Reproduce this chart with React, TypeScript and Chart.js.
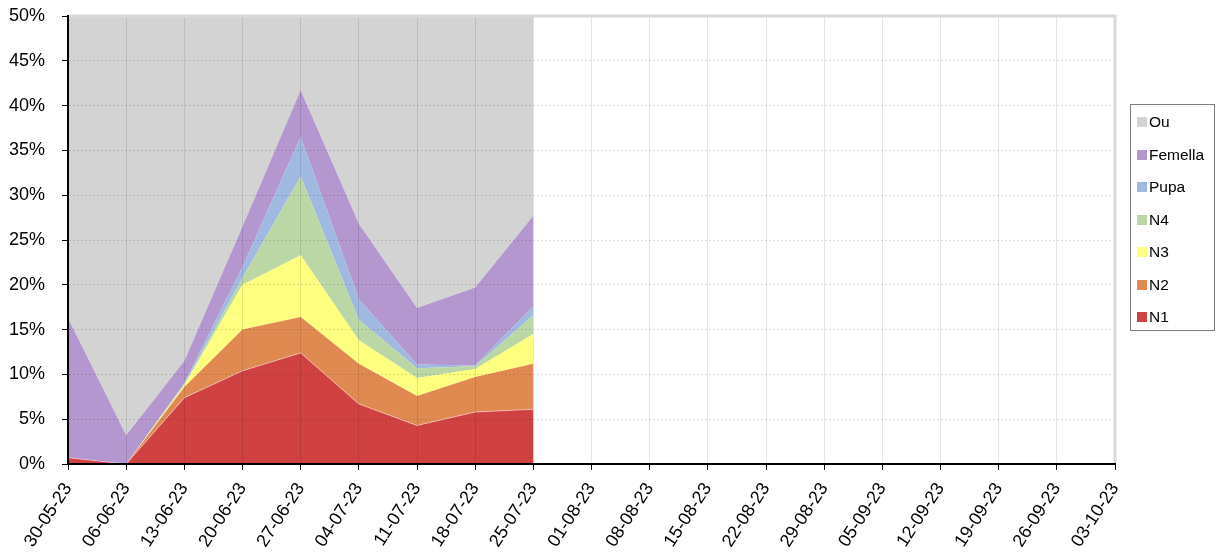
import React, { useEffect, useRef } from "react";
import { Chart, registerables } from "chart.js";

Chart.register(...registerables);

const dates = [
  "30-05-23", "06-06-23", "13-06-23", "20-06-23", "27-06-23", "04-07-23",
  "11-07-23", "18-07-23", "25-07-23", "01-08-23", "08-08-23", "15-08-23",
  "22-08-23", "29-08-23", "05-09-23", "12-09-23", "19-09-23", "26-09-23", "03-10-23",
];

// percentages per category (stacked bottom to top)
const n1 = [0.7, 0, 7.4, 10.4, 12.4, 6.7, 4.3, 5.8, 6.1];
const n2 = [0, 0, 1.2, 4.6, 4.0, 4.5, 3.3, 3.9, 5.1];
const n3 = [0, 0, 0.2, 5.0, 6.9, 2.6, 2.0, 0.9, 3.3];
const n4 = [0, 0, 0.1, 0.8, 8.8, 2.3, 1.1, 0.3, 2.1];
const pupa = [0, 0, 0.1, 1.2, 4.4, 2.3, 0.4, 0.1, 1.0];
const femella = [15.6, 3.2, 2.5, 4.5, 5.2, 8.4, 6.3, 8.7, 10.1];
const ou = [83.7, 96.8, 88.5, 73.5, 58.3, 73.2, 82.6, 80.3, 72.3];

const yTicks = [0, 5, 10, 15, 20, 25, 30, 35, 40, 45, 50];

const series = [
  { label: "N1", data: n1, color: "#d04242" },
  { label: "N2", data: n2, color: "#e08a52" },
  { label: "N3", data: n3, color: "#ffff80" },
  { label: "N4", data: n4, color: "#bbd7a5" },
  { label: "Pupa", data: pupa, color: "#a0b9e0" },
  { label: "Femella", data: femella, color: "#b497cf" },
  { label: "Ou", data: ou, color: "#d3d3d3" },
];

const frameBorder = {
  id: "frameBorder",
  afterDraw(chart: any) {
    const { ctx, chartArea } = chart;
    ctx.save();
    ctx.strokeStyle = "#d9d9d9";
    ctx.lineWidth = 3;
    ctx.beginPath();
    ctx.moveTo(chartArea.left + 1, chartArea.top);
    ctx.lineTo(chartArea.right, chartArea.top);
    ctx.lineTo(chartArea.right, chartArea.bottom - 1);
    ctx.stroke();
    ctx.restore();
  },
};

export default function App() {
  const ref = useRef<HTMLCanvasElement | null>(null);

  useEffect(() => {
    if (!ref.current) return;
    const chart = new Chart(ref.current, {
      type: "line",
      data: {
        labels: dates,
        datasets: series.map((s, i) => ({
          label: s.label,
          data: s.data,
          backgroundColor: s.color,
          borderColor: i === 0 ? "rgba(255,255,255,0.45)" : s.color,
          borderWidth: i === 0 ? 1 : 0,
          pointRadius: 0,
          tension: 0,
          fill: i === 0 ? "origin" : "-1",
        })),
      },
      options: {
        animation: false,
        responsive: false,
        layout: { padding: { top: 16, right: 103, left: 0, bottom: 0 } },
        plugins: {
          legend: { display: false },
          tooltip: { enabled: false },
        },
        scales: {
          x: {
            offset: false,
            grid: {
              z: 1,
              color: "rgba(0,0,0,0.1)",
              tickColor: "#000",
              tickLength: 6,
              tickBorderDash: [],
            },
            border: { color: "#000", width: 2, z: 2 },
            ticks: {
              autoSkip: false,
              minRotation: 57,
              maxRotation: 57,
              padding: 9,
              color: "#000",
              font: { family: "'Liberation Sans', Arial, sans-serif", size: 18 },
            },
            afterFit(scale: any) {
              scale.height = 95;
            },
          },
          y: {
            stacked: true,
            min: 0,
            max: 50,
            afterBuildTicks(scale: any) {
              scale.ticks = yTicks.map((v) => ({ value: v }));
            },
            grid: {
              z: 1,
              color: "rgba(0,0,0,0.13)",
              tickColor: "#000",
              tickLength: 6,
              tickBorderDash: [],
            },
            border: { color: "#000", width: 2, dash: [2, 2], z: 2 },
            ticks: {
              padding: 17,
              color: "#000",
              font: { family: "'Liberation Sans', Arial, sans-serif", size: 18 },
              callback: (v: any) => v + "%",
            },
            afterFit(scale: any) {
              scale.width = 68;
              scale.paddingTop = 0;
              scale.paddingBottom = 0;
            },
          },
        },
      },
      plugins: [frameBorder],
    });
    return () => chart.destroy();
  }, []);

  const legendItems = [...series].reverse();

  return (
    <div style={{ position: "absolute", left: 0, top: 0, width: 1218, height: 559, background: "#fff" }}>
      <canvas ref={ref} width={1218} height={559} style={{ display: "block" }} />
      <div
        style={{
          position: "absolute",
          left: 1130,
          top: 104,
          width: 85,
          height: 227,
          border: "1px solid #808080",
          boxSizing: "border-box",
          fontFamily: "'Liberation Sans', Arial, sans-serif",
          fontSize: 15.5,
          color: "#000",
        }}
      >
        {legendItems.map((s, i) => (
          <div
            key={s.label}
            style={{
              position: "absolute",
              left: 6,
              top: 17 - 9 + i * 32.5,
              height: 18,
              display: "flex",
              alignItems: "center",
              whiteSpace: "nowrap",
            }}
          >
            <span style={{ display: "inline-block", width: 10, height: 10, background: s.color, marginRight: 2 }} />
            <span>{s.label}</span>
          </div>
        ))}
      </div>
    </div>
  );
}
